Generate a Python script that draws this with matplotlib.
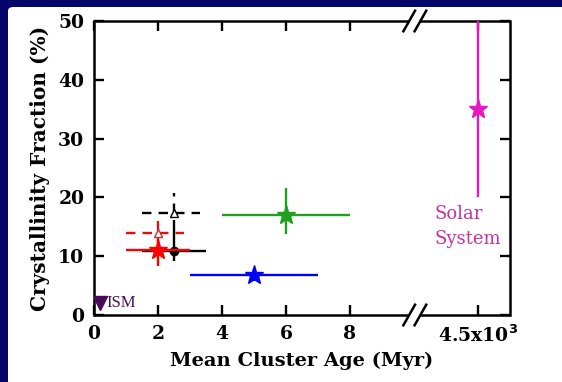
import matplotlib.pyplot as plt
from matplotlib.patches import FancyBboxPatch

# Données (x en Myr, le Système solaire est placé à x=12 après la coupure)
etoiles_x = [2.0, 6.0, 5.0, 12.0]
etoiles_y = [11.0, 17.0, 6.8, 35.0]
etoiles_xmin = [1.0, 4.0, 3.0, 12.0]
etoiles_xmax = [3.0, 8.0, 7.0, 12.0]
etoiles_ymin = [8.3, 13.7, 5.8, 20.0]
etoiles_ymax = [12.8, 21.6, 7.8, 50.0]
etoiles_couleurs = ['#ff0000', '#1fa01f', '#0000ff', '#e818c0']

# Points noirs et triangles (limites)
cercle_x, cercle_y = 2.5, 10.9
cercle_xerr = [1.0, 1.0]
cercle_yerr = [1.7, 5.3]
tri_noir_x, tri_noir_y = 2.5, 17.3
tri_noir_xerr = [1.0, 0.8]
tri_noir_yerr = [0.0, 3.5]
tri_rouge_x, tri_rouge_y = 2.0, 14.0
tri_rouge_xerr = [1.0, 0.8]
tri_rouge_yerr = [2.5, 2.5]
ism_x, ism_y = 0.18, 2.1

x_ticks = [0, 2, 4, 6, 8, 12]
x_labels = ['0', '2', '4', '6', '8', '4.5x10$^3$']
y_ticks = [0, 10, 20, 30, 40, 50]

plt.rcParams['font.family'] = ['DejaVu Serif']
plt.rcParams['font.weight'] = 'bold'
plt.rcParams['axes.labelweight'] = 'bold'
plt.rcParams['mathtext.default'] = 'bf'

fig = plt.figure(figsize=(5.62, 3.82), dpi=100)
fig.patch.set_facecolor('#05056a')
fond = FancyBboxPatch((8 / 562, -0.05), 1.0, 1.05 - 7 / 382,
                      boxstyle='round,pad=0,rounding_size=0.01',
                      transform=fig.transFigure, facecolor='white',
                      edgecolor='none', zorder=-5)
fig.patches.append(fond)

ax = fig.add_axes([94 / 562, 1 - 315 / 382, 416 / 562, 294 / 382])
ax.set_zorder(2)
ax.set_facecolor('none')
ax.set_xlim(0, 13)
ax.set_ylim(0, 50)

lw = 1.7
# Triangles en pointillés (derrière)
e = ax.errorbar(tri_noir_x, tri_noir_y, xerr=[[tri_noir_xerr[0]], [tri_noir_xerr[1]]],
                yerr=[[tri_noir_yerr[0]], [tri_noir_yerr[1]]], fmt='^', mfc='white',
                mec='black', color='black', ms=6, elinewidth=lw, capsize=0, zorder=2)
for b in e[2]:
    b.set_linestyle((0, (4, 3)))
e = ax.errorbar(tri_rouge_x, tri_rouge_y, xerr=[[tri_rouge_xerr[0]], [tri_rouge_xerr[1]]],
                yerr=[[tri_rouge_yerr[0]], [tri_rouge_yerr[1]]], fmt='^', mfc='white',
                mec='#c03030', color='#e01010', ms=6, elinewidth=lw, capsize=0, zorder=2)
for b in e[2]:
    b.set_linestyle((0, (4, 3)))

# Cercle noir
ax.errorbar(cercle_x, cercle_y, xerr=[[cercle_xerr[0]], [cercle_xerr[1]]],
            yerr=[[cercle_yerr[0]], [cercle_yerr[1]]], fmt='o', color='black',
            ms=6, elinewidth=lw, capsize=0, zorder=3)

# Étoiles
for x, y, x0, x1, y0, y1, c in zip(etoiles_x, etoiles_y, etoiles_xmin, etoiles_xmax,
                                   etoiles_ymin, etoiles_ymax, etoiles_couleurs):
    ax.errorbar(x, y, xerr=[[x - x0], [x1 - x]], yerr=[[y - y0], [y1 - y]],
                fmt='*', color=c, ms=14, elinewidth=lw, capsize=0, zorder=4)

# ISM
ax.plot(ism_x, ism_y, marker='v', color='#4a0a5a', ms=10, zorder=5)
ax.text(ism_x + 0.22, ism_y, 'ISM', color='#4a0a5a', fontsize=12,
        fontweight='normal', family='Liberation Serif', va='center', ha='left')

ax.text(10.65, 17.1, 'Solar', color='#c8309e', fontsize=13, fontweight='normal',
        va='center', ha='left')
ax.text(10.65, 12.9, 'System', color='#c8309e', fontsize=13, fontweight='normal',
        va='center', ha='left')

# Axes
ax.set_xticks(x_ticks)
ax.set_xticklabels(x_labels)
ax.set_yticks(y_ticks)
ax.tick_params(direction='in', length=7, width=1.7, top=True, right=True,
               labelsize=13.5, pad=7)
for s in ax.spines.values():
    s.set_linewidth(1.8)
ax.spines['top'].set_visible(False)
ax.spines['bottom'].set_visible(False)

# Axes haut et bas avec coupure
for yy in (0, 1):
    ax.plot([0, 9.85 / 13], [yy, yy], transform=ax.transAxes, color='black',
            lw=1.8, clip_on=False, solid_capstyle='butt')
    ax.plot([10.2 / 13, 1], [yy, yy], transform=ax.transAxes, color='black',
            lw=1.8, clip_on=False, solid_capstyle='butt')
    for xx in (9.85 / 13, 10.2 / 13):
        ax.plot([xx - 0.014, xx + 0.014], [yy - 0.035, yy + 0.035], transform=ax.transAxes,
                color='black', lw=1.8, clip_on=False)

ax.set_xlabel('Mean Cluster Age (Myr)', fontsize=14, labelpad=4)
ax.set_ylabel('Crystallinity Fraction (%)', fontsize=14.5, labelpad=6)

fig.savefig('out.png', dpi=100, facecolor=fig.get_facecolor())
